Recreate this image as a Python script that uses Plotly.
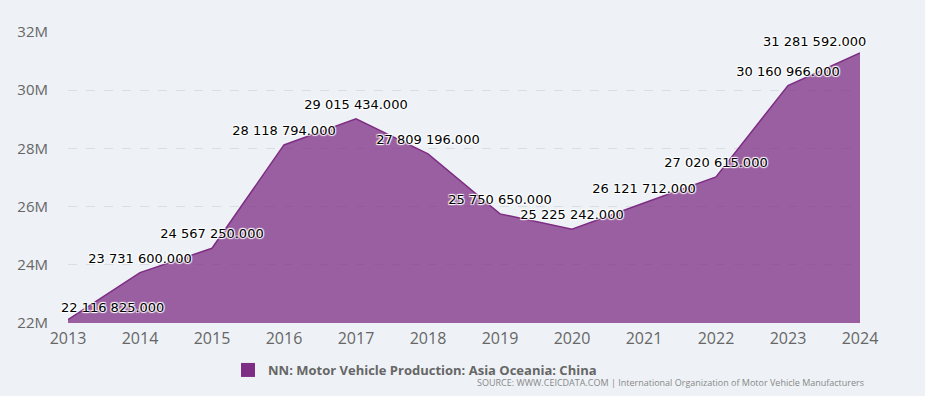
import plotly.graph_objects as go

years = [2013, 2014, 2015, 2016, 2017, 2018, 2019, 2020, 2021, 2022, 2023, 2024]
values = [22116825, 23731600, 24567250, 28118794, 29015434, 27809196,
          25750650, 25225242, 26121712, 27020615, 30160966, 31281592]
series_name = "NN: Motor Vehicle Production: Asia Oceania: China"
source_text = "SOURCE: WWW.CEICDATA.COM | International Organization of Motor Vehicle Manufacturers"
y_ticks = [22e6, 24e6, 26e6, 28e6, 30e6, 32e6]

labels = [f"{v:,.3f}".replace(",", " ") for v in values]
# end labels are drawn as annotations (shifted to stay inside the plot)
inner_text = [""] + labels[1:-1] + [""]

W, H = 925, 396
ml, mr, mt, mb = 68, 65, 32, 72
pw = W - ml - mr
ph = H - mt - mb
color = "#7e2d84"
shadow = "1px 1px 1px #fff, -1px -1px 1px #fff, 1px -1px 1px #fff, -1px 1px 1px #fff"
label_font = dict(family="DejaVu Sans", size=13, color="#000000", shadow=shadow)

fig = go.Figure()
fig.add_trace(go.Scatter(
    x=years, y=values, mode="lines+markers+text", name=series_name,
    fill="tozeroy", fillcolor="rgba(126,45,132,0.75)",
    line=dict(color=color, width=1.5),
    marker=dict(size=9, opacity=0, color=color),
    text=inner_text, textposition="top center",
    textfont=label_font,
    cliponaxis=False, hoverinfo="x+y", showlegend=False,
))
# legend swatch
fig.add_trace(go.Scatter(
    x=[None], y=[None], mode="markers", name=series_name,
    marker=dict(symbol="square", size=14, color=color), showlegend=True,
))

annotations = [
    dict(x=years[0], y=values[0], xref="x", yref="y", text=labels[0],
         xanchor="left", yanchor="bottom", xshift=-9, yshift=3,
         showarrow=False, font=label_font),
    dict(x=years[-1], y=values[-1], xref="x", yref="y", text=labels[-1],
         xanchor="right", yanchor="bottom", xshift=8, yshift=2,
         showarrow=False, font=label_font),
    dict(text=source_text, xref="paper", yref="paper",
         x=(866 - ml) / pw, xanchor="right", y=-(384 - 324) / ph, yanchor="middle",
         showarrow=False, font=dict(family="Open Sans", size=9, color="#888888")),
]

fig.update_layout(
    width=W, height=H,
    margin=dict(l=ml, r=mr, t=mt, b=mb),
    paper_bgcolor="#eef2f6", plot_bgcolor="#eef2f6",
    showlegend=True,
    legend=dict(orientation="h", x=(228 - ml) / pw, xanchor="left",
                y=-46 / ph, yanchor="middle",
                font=dict(family="Open Sans", size=13, color="#666666", weight="bold"),
                bgcolor="rgba(0,0,0,0)", itemwidth=30),
    xaxis=dict(range=[2013, 2024], tickvals=years, showgrid=False, zeroline=False,
               showline=False, ticks="", ticklabelstandoff=4,
               tickfont=dict(family="Open Sans", size=16, color="#666666")),
    yaxis=dict(range=[22e6, 32e6], tickvals=y_ticks, tickformat="~s",
               showgrid=True, gridcolor="#d9dee5", griddash="dash", gridwidth=1,
               zeroline=False, showline=False, ticks="", ticklabelstandoff=19,
               tickfont=dict(family="Open Sans", size=15, color="#666666")),
    annotations=annotations,
)

fig.write_html("out.html", config={"displayModeBar": False},
               post_script="document.body.style.margin='0';document.body.style.background='#eef2f6';")
